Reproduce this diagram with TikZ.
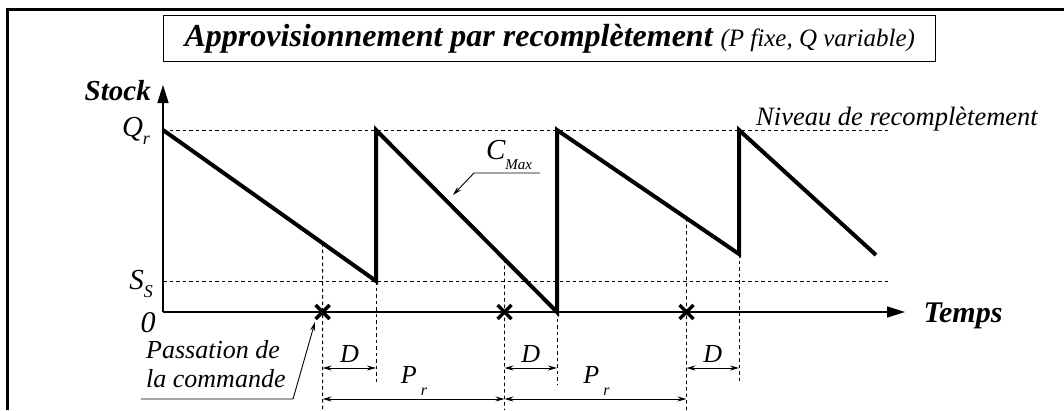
\documentclass[tikz,border=0pt]{standalone}
\usepackage{fontspec}
\setmainfont{Liberation Serif}[ItalicFont={Liberation Serif Italic}, BoldFont={Liberation Serif Bold}, BoldItalicFont={Liberation Serif Bold Italic}]
\usetikzlibrary{arrows.meta}
\begin{document}
\begin{tikzpicture}[x=1pt,y=-1pt,
  frame/.style={line width=3pt},
  saw/.style={line width=4pt, line join=miter},
  axisline/.style={line width=1.5pt, -{Triangle[length=18pt,width=11pt]}},
  guide/.style={line width=0.8pt, dash pattern=on 3.5pt off 3pt},
  dim/.style={line width=1pt, {Stealth[length=9pt,width=5pt]}-{Stealth[length=9pt,width=5pt]}},
  lead/.style={line width=0.9pt, -{Stealth[length=9pt,width=5pt]}},
  crossline/.style={line width=3.5pt},
  lab/.style={font=\fontsize{26}{29}\selectfont\itshape, inner sep=0pt},
  biglab/.style={font=\fontsize{30}{34}\selectfont\bfseries\itshape, inner sep=0pt},
]
\useasboundingbox (0,0) rectangle (1064,410);
% frame
\coordinate (fbl) at (7,410);
\coordinate (ftl) at (7,9);
\coordinate (ftr) at (1064,9);
\draw[frame] (fbl) -- (ftl) -- (ftr);
% title
\node[draw, line width=1pt, minimum width=772pt, minimum height=46pt, inner sep=0pt] (title) at (549.8,38.8)
  {\fontsize{32}{36}\selectfont\bfseries\itshape Approvisionnement par recomplètement\ \mdseries{\fontsize{25}{28}\selectfont (P fixe, Q variable)}};
% axes
\coordinate (O) at (163,312);
\coordinate (Ytop) at (163,85);
\coordinate (Xend) at (905,312);
\draw[axisline] (O) -- (Ytop);
\draw[axisline] (O) -- (Xend);
% levels
\coordinate (qa) at (163,130);
\coordinate (qb) at (891,130);
\coordinate (sa) at (163,281);
\coordinate (sb) at (891,281);
\draw[guide] (qa) -- (qb);
\draw[guide] (sa) -- (sb);
% sawtooth
\coordinate (p0) at (163,130);
\coordinate (v1) at (376,281);
\coordinate (p1) at (376,130);
\coordinate (v2) at (557,312);
\coordinate (p2) at (557,130);
\coordinate (v3) at (739,254);
\coordinate (p3) at (739,130);
\coordinate (e) at (876,255);
% order points
\coordinate (c1) at (322.6,312);
\coordinate (c2) at (504.5,312);
\coordinate (c3) at (686.5,312);
\coordinate (c1t) at (322.6,0);
\coordinate (c2t) at (504.5,0);
\coordinate (c3t) at (686.5,0);
\coordinate (c1b) at (322.6,410);
\coordinate (c2b) at (504.5,410);
\coordinate (c3b) at (686.5,410);
\coordinate (i1) at (intersection of p0--v1 and c1t--c1b);
\coordinate (i2) at (intersection of p1--v2 and c2t--c2b);
\coordinate (i3) at (intersection of p2--v3 and c3t--c3b);
\coordinate (r1b) at (376,384);
\coordinate (r2b) at (557,384);
\coordinate (r3b) at (739,384);
\draw[guide] (i1) -- (c1b);
\draw[guide] (i2) -- (c2b);
\draw[guide] (i3) -- (c3b);
\draw[guide] (v1) -- (r1b);
\draw[guide] (v2) -- (r2b);
\draw[guide] (v3) -- (r3b);
\draw[saw] (p0) -- (v1) -- (p1) -- (v2) -- (p2) -- (v3) -- (p3) -- (e);
% crosses
\foreach \c in {c1,c2,c3}{
  \draw[crossline] ([shift={(-7,-7)}]\c) -- ([shift={(7,7)}]\c);
  \draw[crossline] ([shift={(-7,7)}]\c) -- ([shift={(7,-7)}]\c);
}
% dimension arrows
\coordinate (d1a) at (322.6,368);
\coordinate (d1b) at (376,368);
\coordinate (d2a) at (504.5,368);
\coordinate (d2b) at (557,368);
\coordinate (d3a) at (686.5,368);
\coordinate (d3b) at (739,368);
\coordinate (pa) at (322.6,399);
\coordinate (pb) at (504.5,399);
\coordinate (pc) at (686.5,399);
\draw[dim] (d1a) -- (d1b);
\draw[dim] (d2a) -- (d2b);
\draw[dim] (d3a) -- (d3b);
\draw[dim] (pa) -- (pb);
\draw[dim] (pb) -- (pc);
\node[lab] (D1) at (349.5,354) {D};
\node[lab] (D2) at (530.7,354) {D};
\node[lab] (D3) at (712.7,354) {D};
\node[lab] (P1) at (414,381) {P\raisebox{-0.45em}{\fontsize{16}{16}\selectfont\ r}};
\node[lab] (P2) at (596.5,381) {P\raisebox{-0.45em}{\fontsize{16}{16}\selectfont\ r}};
% axis labels
\node[biglab, font=\fontsize{29}{32}\selectfont\bfseries\itshape, anchor=base east] (stock) at (151,100) {Stock};
\node[biglab] (temps) at (963,316) {Temps};
\node[lab, font=\fontsize{29}{32}\selectfont\itshape] (Qr) at (136,131) {Q\raisebox{-0.3em}{\fontsize{18}{18}\selectfont r}};
\node[lab, font=\fontsize{29}{32}\selectfont\itshape] (Ss) at (141,284) {S\raisebox{-0.3em}{\fontsize{18}{18}\selectfont S}};
\node[lab, font=\fontsize{30}{32}\selectfont\itshape] (zero) at (148,323) {0};
\node[lab, font=\fontsize{26.5}{30}\selectfont\itshape, anchor=base west] (niveau) at (756,125) {Niveau de recomplètement};
% C max
\node[lab, font=\fontsize{29}{32}\selectfont\itshape] (cmax) at (509,155) {C\raisebox{-0.35em}{\fontsize{15}{15}\selectfont Max}};
\coordinate (cm1) at (540,173);
\coordinate (cm2) at (474,173);
\coordinate (cm3) at (453,195);
\draw[lead] (cm1) -- (cm2) -- (cm3);
% passation
\node[lab, align=left, anchor=north west] (pass) at (146,340) {Passation de\\la commande};
\coordinate (pl1) at (141,399);
\coordinate (pl2) at (293,399);
\coordinate (pl3) at (315,322);
\draw[lead] (pl1) -- (pl2) -- (pl3);
\end{tikzpicture}
\end{document}
